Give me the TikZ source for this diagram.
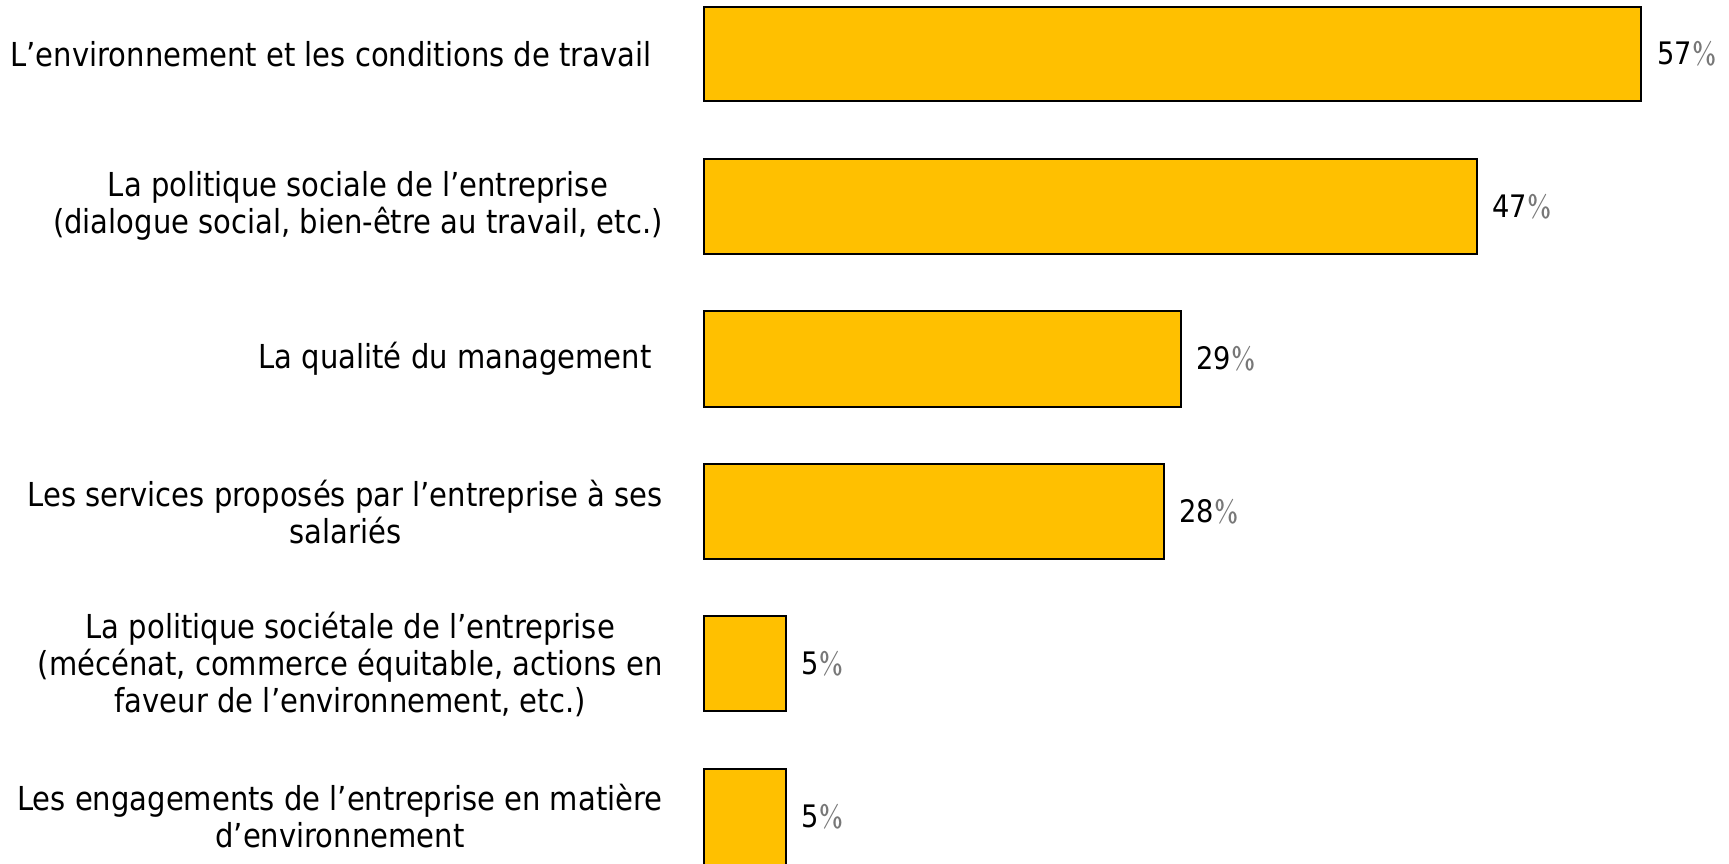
\documentclass[tikz,border=0pt]{standalone}
\usepackage{fontspec}
\setmainfont{DejaVu Sans}[FakeStretch=0.88]
\definecolor{barfill}{HTML}{FFC000}
\definecolor{pctgray}{HTML}{777777}
\newcommand{\pc}{\textcolor{pctgray}{\textsf{\%}}}
\begin{document}
\begin{tikzpicture}[x=0.5pt,y=-0.5pt,
  bar/.style={draw=black, line width=1.2pt, fill=barfill},
  lab/.style={align=center, anchor=east, font=\fontsize{16.5}{18.5}\selectfont, inner sep=0pt},
  pct/.style={anchor=west, font=\fontsize{15.5}{18}\selectfont, inner sep=0pt}]
\useasboundingbox (0,0) rectangle (1729,863);
\clip (0,0) rectangle (1729,863);
% bars
\draw[bar] (704,7) rectangle (1641,101);
\draw[bar] (704,159) rectangle (1477,254);
\draw[bar] (704,311) rectangle (1181,407);
\draw[bar] (704,464) rectangle (1164,559);
\draw[bar] (704,616) rectangle (786,711);
\draw[bar] (704,769) rectangle (786,880);
% values
\node[pct] (v1) at (1657,54) {57\pc};
\node[pct] (v2) at (1492,207) {47\pc};
\node[pct] (v3) at (1196,359) {29\pc};
\node[pct] (v4) at (1179,512) {28\pc};
\node[pct] (v5) at (801,664) {5\pc};
\node[pct] (v6) at (801,817) {5\pc};
% labels
\node[lab] (l1) at (652,54) {L’environnement et les conditions de travail};
\node[lab] (l2) at (663,206) {La politique sociale de l’entreprise\\(dialogue social, bien-être au travail, etc.)};
\node[lab] (l3) at (652,359) {La qualité du management};
\node[lab] (l4) at (663,512) {Les services proposés par l’entreprise à ses\\salariés};
\node[lab] (l5) at (663,664) {La politique sociétale de l’entreprise\\(mécénat, commerce équitable, actions en\\faveur de l’environnement, etc.)};
\node[lab] (l6) at (663,816) {Les engagements de l’entreprise en matière\\d’environnement};
\end{tikzpicture}
\end{document}
